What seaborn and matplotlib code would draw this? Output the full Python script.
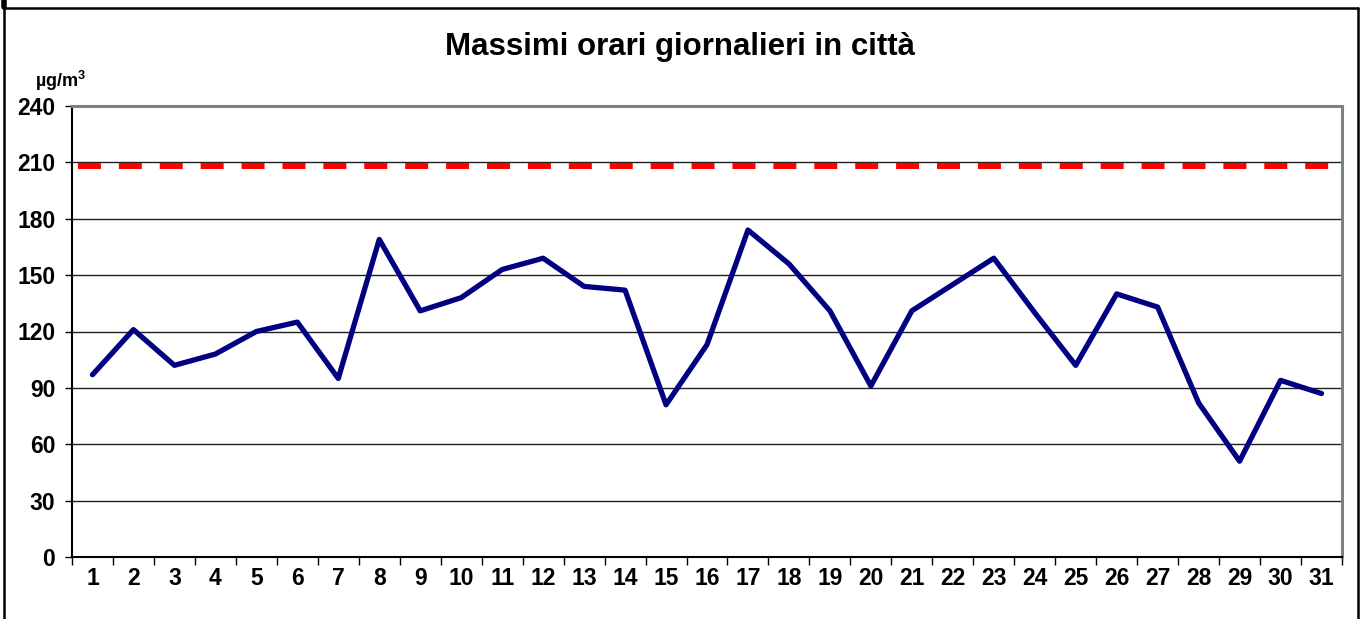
import matplotlib
matplotlib.use("Agg")
import matplotlib.pyplot as plt
import seaborn as sns
import pandas as pd
from matplotlib.lines import Line2D

# dati
giorni = list(range(1, 32))
massimi = [97, 121, 102, 108, 120, 125, 95, 169, 131, 138, 153, 159, 144, 142, 81,
           113, 174, 156, 131, 91, 131, 145, 159, 130, 102, 140, 133, 82, 51, 94, 87]
soglia = 208
y_ticks = [0, 30, 60, 90, 120, 150, 180, 210, 240]

titolo = "Massimi orari giornalieri in città"
unita = r"µg/m$^{\mathbf{3}}$"

sns.set_style("white")
plt.rcParams['font.family'] = ['Liberation Sans', 'DejaVu Sans']
plt.rcParams['font.weight'] = 'bold'
plt.rcParams['mathtext.fontset'] = 'custom'
plt.rcParams['mathtext.bf'] = 'Liberation Sans:bold'
plt.rcParams['text.color'] = 'black'
plt.rcParams['xtick.color'] = 'black'
plt.rcParams['ytick.color'] = 'black'
plt.rcParams['xtick.labelcolor'] = 'black'
plt.rcParams['ytick.labelcolor'] = 'black'

df = pd.DataFrame({'Giorno': giorni, 'Massimo': massimi})

fig = plt.figure(figsize=(13.63, 6.19), dpi=100)
ax = fig.add_axes([72 / 1363, 1 - 557 / 619, (1342 - 72) / 1363, (557 - 106) / 619])

# griglia orizzontale
for v in y_ticks[1:-1]:
    ax.axhline(v, color='#202020', linewidth=1.0, zorder=1)

# linea soglia tratteggiata
ax.axhline(soglia, color='#FF0000', linewidth=4.3, linestyle=(5.86, (3.85, 3.0)), zorder=2)

sns.lineplot(data=df, x='Giorno', y='Massimo', ax=ax, color='#000080',
             linewidth=3.8, zorder=3, legend=False)

ax.set_xlim(0.5, 31.5)
ax.set_ylim(0, 240)
ax.set_yticks(y_ticks)
ax.set_yticklabels([str(v) for v in y_ticks], fontsize=16.5, fontweight='bold')
ax.set_xticks(giorni)
ax.set_xticklabels([str(g) for g in giorni], fontsize=16.5, fontweight='bold')
ax.set_xticks([g + 0.5 for g in [0] + giorni], minor=True)
ax.tick_params(axis='x', which='major', bottom=True, length=0, pad=7)
ax.tick_params(axis='x', which='minor', bottom=True, length=6, width=1, color='black', direction='out')
ax.tick_params(axis='y', which='major', left=True, length=5, width=1, color='black', direction='out', pad=7)
ax.set_xlabel('')
ax.set_ylabel('')

for s in ['left', 'bottom']:
    ax.spines[s].set_color('black')
    ax.spines[s].set_linewidth(1.5)
for s in ['top', 'right']:
    ax.spines[s].set_color('#808080')
    ax.spines[s].set_linewidth(2.2)

fig.text(680 / 1363, 1 - 47 / 619, titolo, ha='center', va='center',
         fontsize=22.5, fontweight='bold')
fig.text(35 / 1363, 1 - 81 / 619, unita, ha='left', va='center',
         fontsize=13, fontweight='bold')

# cornice esterna
lw = 1.8
fig.add_artist(Line2D([3.5 / 1363, 3.5 / 1363], [0, 1], transform=fig.transFigure, color='black', linewidth=lw))
fig.add_artist(Line2D([3.5 / 1363, 1357.5 / 1363], [1 - 7.5 / 619, 1 - 7.5 / 619], transform=fig.transFigure, color='black', linewidth=lw))
fig.add_artist(Line2D([1357.5 / 1363, 1357.5 / 1363], [0, 1 - 7.5 / 619], transform=fig.transFigure, color='black', linewidth=lw))
fig.add_artist(Line2D([4 / 1363, 4 / 1363], [1 - 7 / 619, 1], transform=fig.transFigure, color='black', linewidth=4))

fig.savefig("out.png", dpi=100)
